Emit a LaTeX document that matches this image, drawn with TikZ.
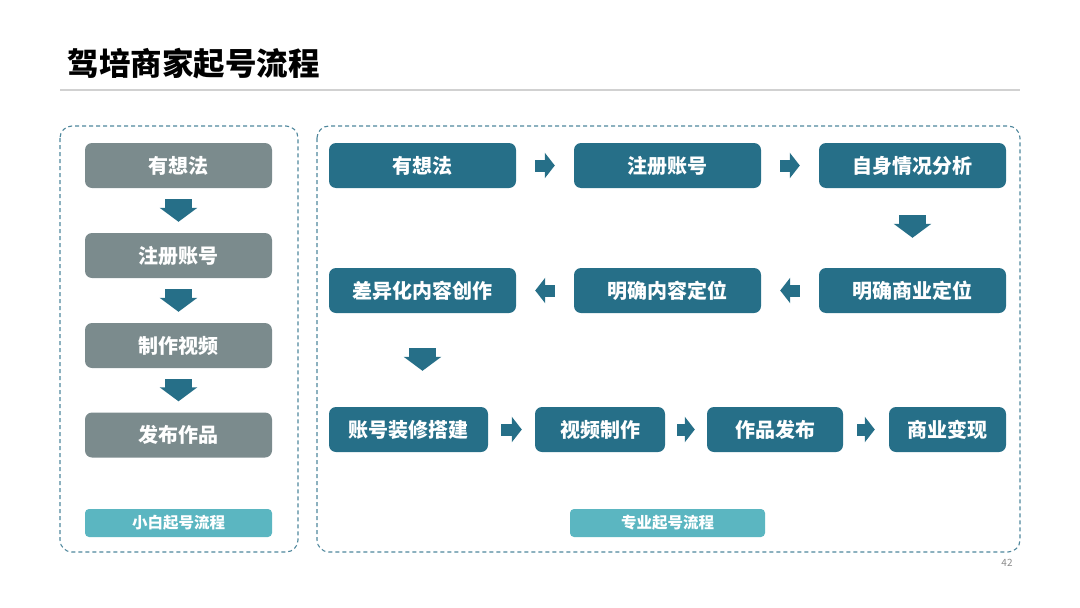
\documentclass[tikz,border=0pt]{standalone}
\usepackage{fontspec}
\setmainfont{Noto Sans CJK SC}
\usetikzlibrary{arrows.meta}

\definecolor{boxteal}{HTML}{266F88}
\definecolor{boxgray}{HTML}{7B8B8D}
\definecolor{tagteal}{HTML}{5BB6C1}
\definecolor{frameblue}{HTML}{4F879C}

\tikzset{
    stepbox/.style={fill=boxteal, rounded corners=7pt, text=white,
        minimum height=45pt, inner sep=0pt,
        font=\fontsize{20}{23}\selectfont\bfseries},
    graybox/.style={stepbox, fill=boxgray, minimum width=187pt},
    tagbox/.style={fill=tagteal, rounded corners=4pt, text=white,
        minimum height=28pt, inner sep=0pt,
        font=\fontsize{15.5}{18}\selectfont\bfseries},
    frame/.style={draw=frameblue, line width=1.1pt, dash pattern=on 4pt off 3pt,
        rounded corners=12pt},
    harrow/.style={boxteal, line width=12pt,
        -{Triangle[width=25pt,length=10pt]},
        shorten <=#1, shorten >=#1},
    varrow/.style={boxteal, line width=27pt,
        -{Triangle[width=37pt,length=14pt]}}
}

\begin{document}
\begin{tikzpicture}[x=1pt,y=-1pt]

    \useasboundingbox (0,0) rectangle (1080,608);

    % Title
    \node[anchor=west, font=\fontsize{31.5}{34}\selectfont\bfseries]
        (title) at (64,64) {驾培商家起号流程};
    \draw[black!18, line width=1.3pt] (60,90) -- (1020,90);

    % Frames
    \draw[frame] (60,126) rectangle (298,552);
    \draw[frame] (317,126) rectangle (1020,552);

    % Left flow
    \node[graybox] (l1) at (178.5,165.5) {有想法};
    \node[graybox] (l2) at (178.5,255.5) {注册账号};
    \node[graybox] (l3) at (178.5,345.5) {制作视频};
    \node[graybox] (l4) at (178.5,435) {发布作品};

    \draw[varrow, shorten <=11pt, shorten >=11pt] (l1) -- (l2);
    \draw[varrow, shorten <=11pt, shorten >=11pt] (l2) -- (l3);
    \draw[varrow, shorten <=11pt, shorten >=11pt] (l3) -- (l4);

    \node[tagbox, minimum width=187pt] (ltag) at (178.5,523) {小白起号流程};

    % Right flow, row 1
    \node[stepbox, minimum width=187pt] (r1) at (422.5,165.5) {有想法};
    \node[stepbox, minimum width=187pt] (r2) at (667.5,165.5) {注册账号};
    \node[stepbox, minimum width=187pt] (r3) at (912.5,165.5) {自身情况分析};

    % Right flow, row 2
    \node[stepbox, minimum width=187pt] (r4) at (912.5,290.5) {明确商业定位};
    \node[stepbox, minimum width=187pt] (r5) at (667.5,290.5) {明确内容定位};
    \node[stepbox, minimum width=187pt] (r6) at (422.5,290.5) {差异化内容创作};

    % Right flow, row 3
    \node[stepbox, minimum width=159pt] (r7) at (408.5,429.5) {账号装修搭建};
    \node[stepbox, minimum width=130pt] (r8) at (600,429.5) {视频制作};
    \node[stepbox, minimum width=136pt] (r9) at (775,429.5) {作品发布};
    \node[stepbox, minimum width=117pt] (r10) at (947.5,429.5) {商业变现};

    \draw[harrow=19pt] (r1) -- (r2);
    \draw[harrow=19pt] (r2) -- (r3);
    \draw[varrow, shorten <=27pt, shorten >=30pt] (r3) -- (r4);
    \draw[harrow=19pt] (r4) -- (r5);
    \draw[harrow=19pt] (r5) -- (r6);
    \draw[varrow, shorten <=35pt, shorten >=36pt] (r6.south) -- (r6.south |- r7.north);
    \draw[harrow=13pt] (r7) -- (r8);
    \draw[harrow=12pt] (r8) -- (r9);
    \draw[harrow=14pt] (r9) -- (r10);

    \node[tagbox, minimum width=195pt] (rtag) at (667.5,523) {专业起号流程};

    % Page number
    \node[text=black!45, font=\fontsize{10}{12}\selectfont] (pnum) at (1007,563) {42};

\end{tikzpicture}
\end{document}
